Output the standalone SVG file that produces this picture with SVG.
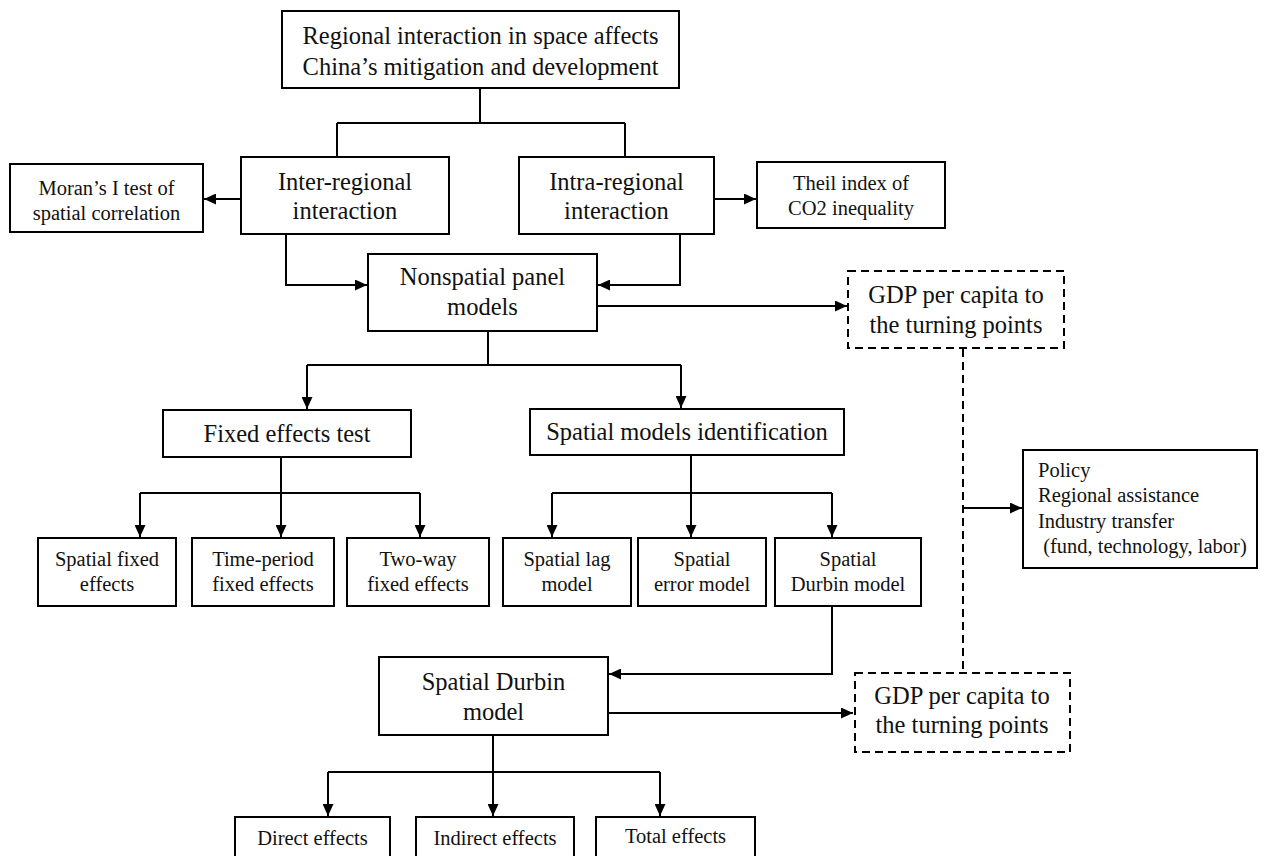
<svg xmlns="http://www.w3.org/2000/svg" width="1264" height="856" viewBox="0 0 1264 856">
<defs>
<marker id="ah" viewBox="0 0 12 12" refX="12" refY="6" markerWidth="12" markerHeight="11" markerUnits="userSpaceOnUse" orient="auto" preserveAspectRatio="none">
<path d="M0,0 L12,6 L0,12 Z" fill="#000"/>
</marker>
<style>
.b{fill:#fff;stroke:#000;stroke-width:2}
.d{fill:#fff;stroke:#000;stroke-width:2;stroke-dasharray:8 5}
.c{fill:none;stroke:#000;stroke-width:2}
.a{fill:none;stroke:#000;stroke-width:2;marker-end:url(#ah)}
.dl{fill:none;stroke:#000;stroke-width:2;stroke-dasharray:8 5}
text{font-family:"Liberation Serif","Times New Roman",serif;fill:#111}
.L{font-size:24.5px;text-anchor:middle}
.S{font-size:20.5px;text-anchor:middle}
.P{font-size:20.5px}
</style>
</defs>
<rect width="1264" height="856" fill="#fff"/>
<g id="connectors">
<path class="c" d="M480,88 V123 M337,123 H625 M337,123 V157 M625,123 V157"/>
<path class="a" d="M241,199 H204"/>
<path class="a" d="M714,199 H756"/>
<path class="a" d="M286,234 V285 H367"/>
<path class="a" d="M680,234 V285 H598"/>
<path class="a" d="M597,306 H847"/>
<path class="c" d="M488,331 V365 M307,365 H681"/>
<path class="a" d="M307,365 V409"/>
<path class="a" d="M681,365 V408"/>
<path class="c" d="M281,457 V493 M140,493 H420 M691,455 V493 M552,493 H832"/>
<path class="a" d="M140,493 V537"/>
<path class="a" d="M281,493 V537"/>
<path class="a" d="M420,493 V537"/>
<path class="a" d="M552,493 V537"/>
<path class="a" d="M691,493 V537"/>
<path class="a" d="M832,493 V537"/>
<path class="dl" d="M963,349 V672"/>
<path class="a" d="M963,508 H1022"/>
<path class="a" d="M832,606 V674 H609"/>
<path class="a" d="M608,713 H853"/>
<path class="c" d="M493,735 V772 M328,772 H660"/>
<path class="a" d="M328,772 V816"/>
<path class="a" d="M493,772 V816"/>
<path class="a" d="M660,772 V816"/>
</g>
<g id="n-top"><rect class="b" x="282" y="11" width="397" height="77"/><text class="L" x="480.5" y="44">Regional interaction in space affects</text><text class="L" x="480.5" y="75">China’s mitigation and development</text></g>
<g id="n-inter"><rect class="b" x="241" y="157" width="208" height="77"/><text class="L" x="345" y="190">Inter-regional</text><text class="L" x="345" y="219">interaction</text></g>
<g id="n-intra"><rect class="b" x="519" y="157" width="195" height="77"/><text class="L" x="616.5" y="190">Intra-regional</text><text class="L" x="616.5" y="219">interaction</text></g>
<g id="n-moran"><rect class="b" x="10" y="164" width="193" height="68"/><text class="S" x="106.5" y="195">Moran’s I test of</text><text class="S" x="106.5" y="220">spatial correlation</text></g>
<g id="n-theil"><rect class="b" x="757" y="162" width="188" height="66"/><text class="S" x="851" y="190">Theil index of</text><text class="S" x="851" y="215">CO2 inequality</text></g>
<g id="n-nonspatial"><rect class="b" x="368" y="254" width="229" height="77"/><text class="L" x="482.5" y="285">Nonspatial panel</text><text class="L" x="482.5" y="315">models</text></g>
<g id="n-gdp1"><rect class="d" x="848" y="271" width="216" height="77"/><text class="L" x="956" y="303">GDP per capita to</text><text class="L" x="956" y="333">the turning points</text></g>
<g id="n-fixed"><rect class="b" x="163" y="410" width="248" height="47"/><text class="L" x="287" y="442">Fixed effects test</text></g>
<g id="n-spatialid"><rect class="b" x="530" y="409" width="314" height="46"/><text class="L" x="687" y="440">Spatial models identification</text></g>
<g id="n-policy"><rect class="b" x="1023" y="450" width="234" height="118"/><text class="P" x="1038" y="477">Policy</text><text class="P" x="1038" y="502">Regional assistance</text><text class="P" x="1038" y="528">Industry transfer</text><text class="P" x="1038" y="553" xml:space="preserve"> (fund, technology, labor)</text></g>
<g id="n-sfe"><rect class="b" x="38" y="538" width="138" height="68"/><text class="S" x="107" y="566">Spatial fixed</text><text class="S" x="107" y="591">effects</text></g>
<g id="n-tpfe"><rect class="b" x="192" y="538" width="142" height="68"/><text class="S" x="263" y="566">Time-period</text><text class="S" x="263" y="591">fixed effects</text></g>
<g id="n-twfe"><rect class="b" x="347" y="538" width="142" height="68"/><text class="S" x="418" y="566">Two-way</text><text class="S" x="418" y="591">fixed effects</text></g>
<g id="n-slm"><rect class="b" x="503" y="538" width="128" height="68"/><text class="S" x="567" y="566">Spatial lag</text><text class="S" x="567" y="591">model</text></g>
<g id="n-sem"><rect class="b" x="638" y="538" width="128" height="68"/><text class="S" x="702" y="566">Spatial</text><text class="S" x="702" y="591">error model</text></g>
<g id="n-sdm-small"><rect class="b" x="775" y="538" width="146" height="68"/><text class="S" x="848" y="566">Spatial</text><text class="S" x="848" y="591">Durbin model</text></g>
<g id="n-sdm"><rect class="b" x="379" y="657" width="229" height="78"/><text class="L" x="493.5" y="690">Spatial Durbin</text><text class="L" x="493.5" y="720">model</text></g>
<g id="n-gdp2"><rect class="d" x="855" y="673" width="215" height="79"/><text class="L" x="962" y="704">GDP per capita to</text><text class="L" x="962" y="733">the turning points</text></g>
<g id="n-direct"><rect class="b" x="235" y="817" width="155" height="60"/><text class="S" x="312.5" y="845">Direct effects</text></g>
<g id="n-indirect"><rect class="b" x="416" y="817" width="158" height="60"/><text class="S" x="495" y="845">Indirect effects</text></g>
<g id="n-total"><rect class="b" x="596" y="817" width="159" height="60"/><text class="S" x="675.5" y="843">Total effects</text></g>
</svg>
